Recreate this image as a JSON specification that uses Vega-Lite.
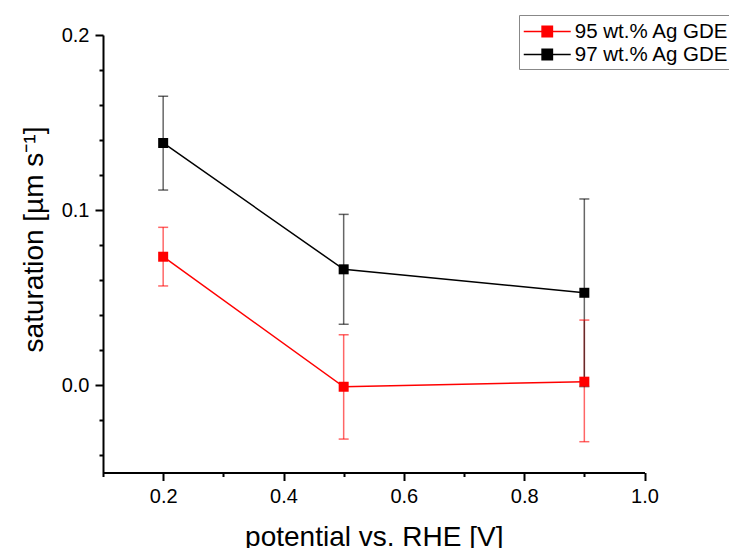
{
  "$schema": "https://vega.github.io/schema/vega-lite/v6.json",
  "width": 541.5,
  "height": 437.5,
  "autosize": {"type": "none"},
  "padding": {"left": 103, "top": 35, "right": 84.5, "bottom": 75.5},
  "background": "white",
  "config": {"view": {"stroke": null}, "font": "Liberation Sans"},
  "data": {
    "values": [
      {"series": "95 wt.% Ag GDE", "potential": 0.2, "sat": 0.0733, "lo": 0.0566, "hi": 0.0901},
      {"series": "95 wt.% Ag GDE", "potential": 0.5, "sat": -0.001, "lo": -0.0309, "hi": 0.0287},
      {"series": "95 wt.% Ag GDE", "potential": 0.9, "sat": 0.0019, "lo": -0.0324, "hi": 0.0371},
      {"series": "97 wt.% Ag GDE", "potential": 0.2, "sat": 0.1383, "lo": 0.1114, "hi": 0.165},
      {"series": "97 wt.% Ag GDE", "potential": 0.5, "sat": 0.0661, "lo": 0.0347, "hi": 0.0975},
      {"series": "97 wt.% Ag GDE", "potential": 0.9, "sat": 0.0527, "lo": -0.0009, "hi": 0.1063}
    ]
  },
  "resolve": {"axis": {"x": "independent", "y": "independent"}},
  "layer": [
    {
      "encoding": {
        "x": {
          "field": "potential",
          "type": "quantitative",
          "scale": {"domain": [0.1, 1.0], "nice": false, "zero": false},
          "axis": {
            "orient": "bottom",
            "title": "potential vs. RHE [V]",
            "values": [0.2, 0.4, 0.6, 0.8, 1.0],
            "format": ".1f",
            "labelOverlap": false,
            "labelFlush": false,
            "grid": false,
            "domainWidth": 2,
            "domainColor": "black",
            "tickColor": "black",
            "tickWidth": 2,
            "tickSize": 8,
            "labelFontSize": 20,
            "labelColor": "black",
            "labelPadding": 5.5,
            "titleFontSize": 28,
            "titleFontWeight": "normal",
            "titleColor": "black",
            "titleY": 72.5,
            "titleBaseline": "alphabetic"
          }
        },
        "y": {
          "field": "sat",
          "type": "quantitative",
          "scale": {"domain": [-0.05, 0.2], "nice": false, "zero": false},
          "axis": {
            "orient": "left",
            "title": "saturation [µm s⁻¹]",
            "values": [0, 0.1, 0.2],
            "format": ".1f",
            "labelOverlap": false,
            "labelFlush": false,
            "grid": false,
            "domainWidth": 2,
            "domainColor": "black",
            "tickColor": "black",
            "tickWidth": 2,
            "tickSize": 8,
            "labelFontSize": 20,
            "labelColor": "black",
            "labelPadding": 6,
            "titleFontSize": 28,
            "titleFontWeight": "normal",
            "titleColor": "black",
            "titleAngle": 270,
            "titleX": -61,
            "titleY": 204,
            "titleAlign": "center",
            "titleBaseline": "alphabetic"
          }
        },
        "color": {
          "field": "series",
          "type": "nominal",
          "scale": {"domain": ["95 wt.% Ag GDE", "97 wt.% Ag GDE"], "range": ["#ff0000", "#000000"]},
          "legend": {
            "orient": "none",
            "legendX": 416,
            "legendY": -20,
            "title": null,
            "symbolType": "M-2,0H-0.44M0.44,0H2M-0.44,-0.44H0.44V0.44H-0.44Z",
            "symbolSize": 552,
            "symbolOffset": 11.75,
            "symbolStrokeWidth": 1.5,
            "symbolOpacity": 1,
            "labelFontSize": 20.5,
            "labelColor": "black",
            "labelOffset": 15,
            "labelLimit": 400,
            "strokeColor": "#888888",
            "padding": 4,
            "rowPadding": 0,
            "encode": {"symbols": {"update": {"stroke": {"scale": "color", "field": "value"}, "fill": {"scale": "color", "field": "value"}}}}
          }
        }
      },
      "layer": [
        {
          "mark": {"type": "rule", "strokeWidth": 1.5, "opacity": 0.6},
          "encoding": {"y": {"field": "lo", "type": "quantitative"}, "y2": {"field": "hi"}}
        },
        {
          "mark": {"type": "tick", "orient": "horizontal", "size": 10, "thickness": 1.5, "opacity": 0.6},
          "encoding": {"y": {"field": "lo", "type": "quantitative"}}
        },
        {
          "mark": {"type": "tick", "orient": "horizontal", "size": 10, "thickness": 1.5, "opacity": 0.6},
          "encoding": {"y": {"field": "hi", "type": "quantitative"}}
        },
        {
          "mark": {"type": "line", "strokeWidth": 1.5},
          "encoding": {}
        },
        {
          "mark": {"type": "point", "shape": "square", "filled": true, "size": 100, "opacity": 1},
          "encoding": {}
        }
      ]
    },
    {
      "mark": {"type": "point", "opacity": 0},
      "encoding": {
        "x": {
          "field": "potential",
          "type": "quantitative",
          "axis": {
            "orient": "bottom",
            "title": null,
            "values": [0.1, 0.3, 0.5, 0.7, 0.9],
            "labels": false,
            "domain": false,
            "grid": false,
            "tickColor": "black",
            "tickWidth": 2,
            "tickSize": 4
          }
        },
        "y": {
          "field": "sat",
          "type": "quantitative",
          "axis": {
            "orient": "left",
            "title": null,
            "values": [-0.04, -0.02, 0.02, 0.04, 0.06, 0.08, 0.12, 0.14, 0.16, 0.18],
            "labels": false,
            "domain": false,
            "grid": false,
            "tickColor": "black",
            "tickWidth": 2,
            "tickSize": 4
          }
        }
      }
    }
  ]
}
